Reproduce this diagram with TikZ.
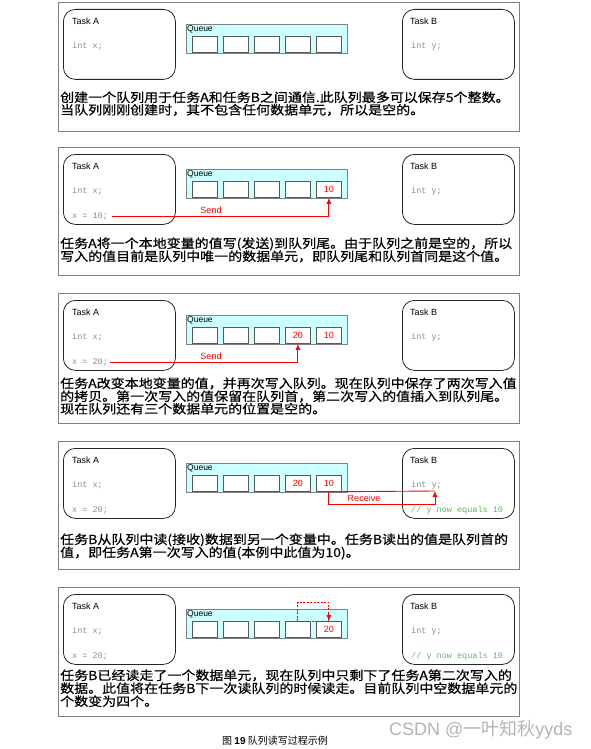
\documentclass[tikz,border=0pt]{standalone}
\usepackage{fontspec}
\setsansfont{Liberation Sans}
\setmonofont{Liberation Mono}
\newfontfamily\cjk[FakeStretch=1.12,FakeBold=0.5]{Noto Sans CJK SC}
\newfontfamily\cjkplain{Noto Sans CJK SC}
\usetikzlibrary{arrows.meta}
\definecolor{qfill}{HTML}{CCFFFF}
\definecolor{codegray}{HTML}{8C8C8C}
\definecolor{codegreen}{HTML}{5CB85C}
\definecolor{wmark}{HTML}{B4B4B4}
\definecolor{framec}{HTML}{808080}
\tikzset{
 panel/.style={draw=framec,line width=0.8pt,anchor=north west,minimum width=461.5pt,inner sep=0pt},
 taskbox/.style={draw=black!85,line width=0.8pt,rounded corners=12pt,anchor=north west,minimum width=112pt,minimum height=70pt,inner sep=0pt},
 queuebox/.style={draw=framec,fill=qfill,line width=0.8pt,anchor=north west,minimum width=161pt,minimum height=29pt,inner sep=0pt},
 cellbox/.style={draw=black!65,fill=white,line width=0.8pt,anchor=north west,minimum width=25pt,minimum height=16pt,inner sep=0pt,font=\sffamily\fontsize{9}{10}\selectfont,text=red},
 lbl/.style={anchor=west,inner sep=0pt,font=\sffamily\fontsize{9}{10}\selectfont},
 redlbl/.style={inner sep=0pt,font=\sffamily\fontsize{9}{10}\selectfont,text=red},
 code/.style={anchor=west,inner sep=0pt,font=\ttfamily\fontsize{8.5}{10}\selectfont,text=codegray},
 greencode/.style={code,text=codegreen},
 para/.style={anchor=base west,inner sep=0pt,font=\cjk\fontsize{12.5}{13}\selectfont},
 redarrow/.style={draw=red,line width=0.9pt,-{Latex[length=6pt,width=5pt]}},
 redline/.style={draw=red,line width=0.9pt},
 reddash/.style={draw=red,line width=0.9pt,dash pattern=on 2pt off 1.5pt},
}
% #1 suffix, #2 top, #3 height, #4..#8 cell contents
\newcommand\qpanel[8]{%
 \node[panel,minimum height=#3pt] (P#1) at (57.5,#2) {};
 \node[taskbox] (A#1) at (63,{#2+7}) {};
 \node[taskbox] (B#1) at (402,{#2+7}) {};
 \node[lbl] (tA#1) at (72,{#2+19}) {Task A};
 \node[lbl] (tB#1) at (410,{#2+19}) {Task B};
 \node[code] (ix#1) at (72,{#2+44}) {int x;};
 \node[code] (iy#1) at (411,{#2+44}) {int y;};
 \node[queuebox] (Q#1) at (186,{#2+22}) {};
 \node[lbl,font=\sffamily\fontsize{8.5}{9}\selectfont] (ql#1) at (187,{#2+27}) {Queue};
 \node[cellbox] (c#11) at (192,{#2+34}) {#4};
 \node[cellbox] (c#12) at (223,{#2+34}) {#5};
 \node[cellbox] (c#13) at (254,{#2+34}) {#6};
 \node[cellbox] (c#14) at (285,{#2+34}) {#7};
 \node[cellbox] (c#15) at (316,{#2+34}) {#8};
}
\begin{document}
\begin{tikzpicture}[x=1pt,y=-1pt]
\useasboundingbox (0,0) rectangle (591,749);

% Panel 1
\qpanel{a}{2}{129}{}{}{}{}{}
\node[para] (ta1) at (60,102) {创建一个队列用于任务A和任务B之间通信.此队列最多可以保存5个整数。};
\node[para] (ta2) at (60,114.5) {当队列刚刚创建时，其不包含任何数据单元，所以是空的。};

% Panel 2
\qpanel{b}{147}{128}{}{}{}{}{10}
\node[code] (xb) at (72,216) {x = 10;};
\draw[redarrow] ([xshift=4pt]xb.east) -| (cb5.south);
\node[redlbl] (sb) at (211,210) {Send};
\node[para] (tb1) at (60,248) {任务A将一个本地变量的值写(发送)到队列尾。由于队列之前是空的，所以};
\node[para] (tb2) at (60,261) {写入的值目前是队列中唯一的数据单元，即队列尾和队列首同是这个值。};

% Panel 3
\qpanel{c}{293}{130}{}{}{}{20}{10}
\node[code] (xc) at (72,362) {x = 20;};
\draw[redarrow] ([xshift=2pt]xc.east) -| (cc4.south);
\node[redlbl] (sc) at (211,356) {Send};
\node[para] (tc1) at (60,388) {任务A改变本地变量的值，并再次写入队列。现在队列中保存了两次写入值};
\node[para] (tc2) at (60,401) {的拷贝。第一次写入的值保留在队列首，第二次写入的值插入到队列尾。};
\node[para] (tc3) at (60,413.5) {现在队列还有三个数据单元的位置是空的。};

% Panel 4
\qpanel{d}{441}{128}{}{}{}{20}{10}
\node[code] (xd) at (72,510) {x = 20;};
\node[greencode] (gd) at (411,510) {// y now equals 10};
\coordinate (rd) at (435,491);
\draw[redline] (cd5.south) -- (rd);
\draw[redarrow] (cd5.south) -- ++(0,13) -| (rd);
\node[redlbl] (sd) at (364,498.5) {Receive};
\node[para] (td1) at (60,544) {任务B从队列中读(接收)数据到另一个变量中。任务B读出的值是队列首的};
\node[para] (td2) at (60,557) {值，即任务A第一次写入的值(本例中此值为10)。};

% Panel 5
\qpanel{e}{587}{129}{}{}{}{}{20}
\node[code] (xe) at (72,656) {x = 20;};
\node[greencode] (ge) at (411,656) {// y now equals 10};
\draw[reddash] (ce4.north) -- (ce5.north);
\draw[reddash] (ce4.north) -- ++(0,-19) -| (ce5.north);
\draw[red,line width=0.9pt,-{Latex[length=6pt,width=5pt]}] ([yshift=8pt]ce5.north) -- (ce5.north);
\node[para] (te1) at (60,680) {任务B已经读走了一个数据单元，现在队列中只剩下了任务A第二次写入的};
\node[para] (te2) at (60,693) {数据。此值将在任务B下一次读队列的时候读走。目前队列中空数据单元的};
\node[para] (te3) at (60,706) {个数变为四个。};

% Caption and watermark
\node[anchor=base west,inner sep=0pt,font=\cjkplain\fontsize{10}{12}\selectfont] (cap) at (222,744) {图 {\sffamily\bfseries 19} 队列读写过程示例};
\node[anchor=base west,inner sep=0pt,text=wmark,font=\sffamily\fontsize{18}{20}\selectfont] (wm) at (389,735) {CSDN @{\cjkplain 一叶知秋}yyds};
\end{tikzpicture}
\end{document}
